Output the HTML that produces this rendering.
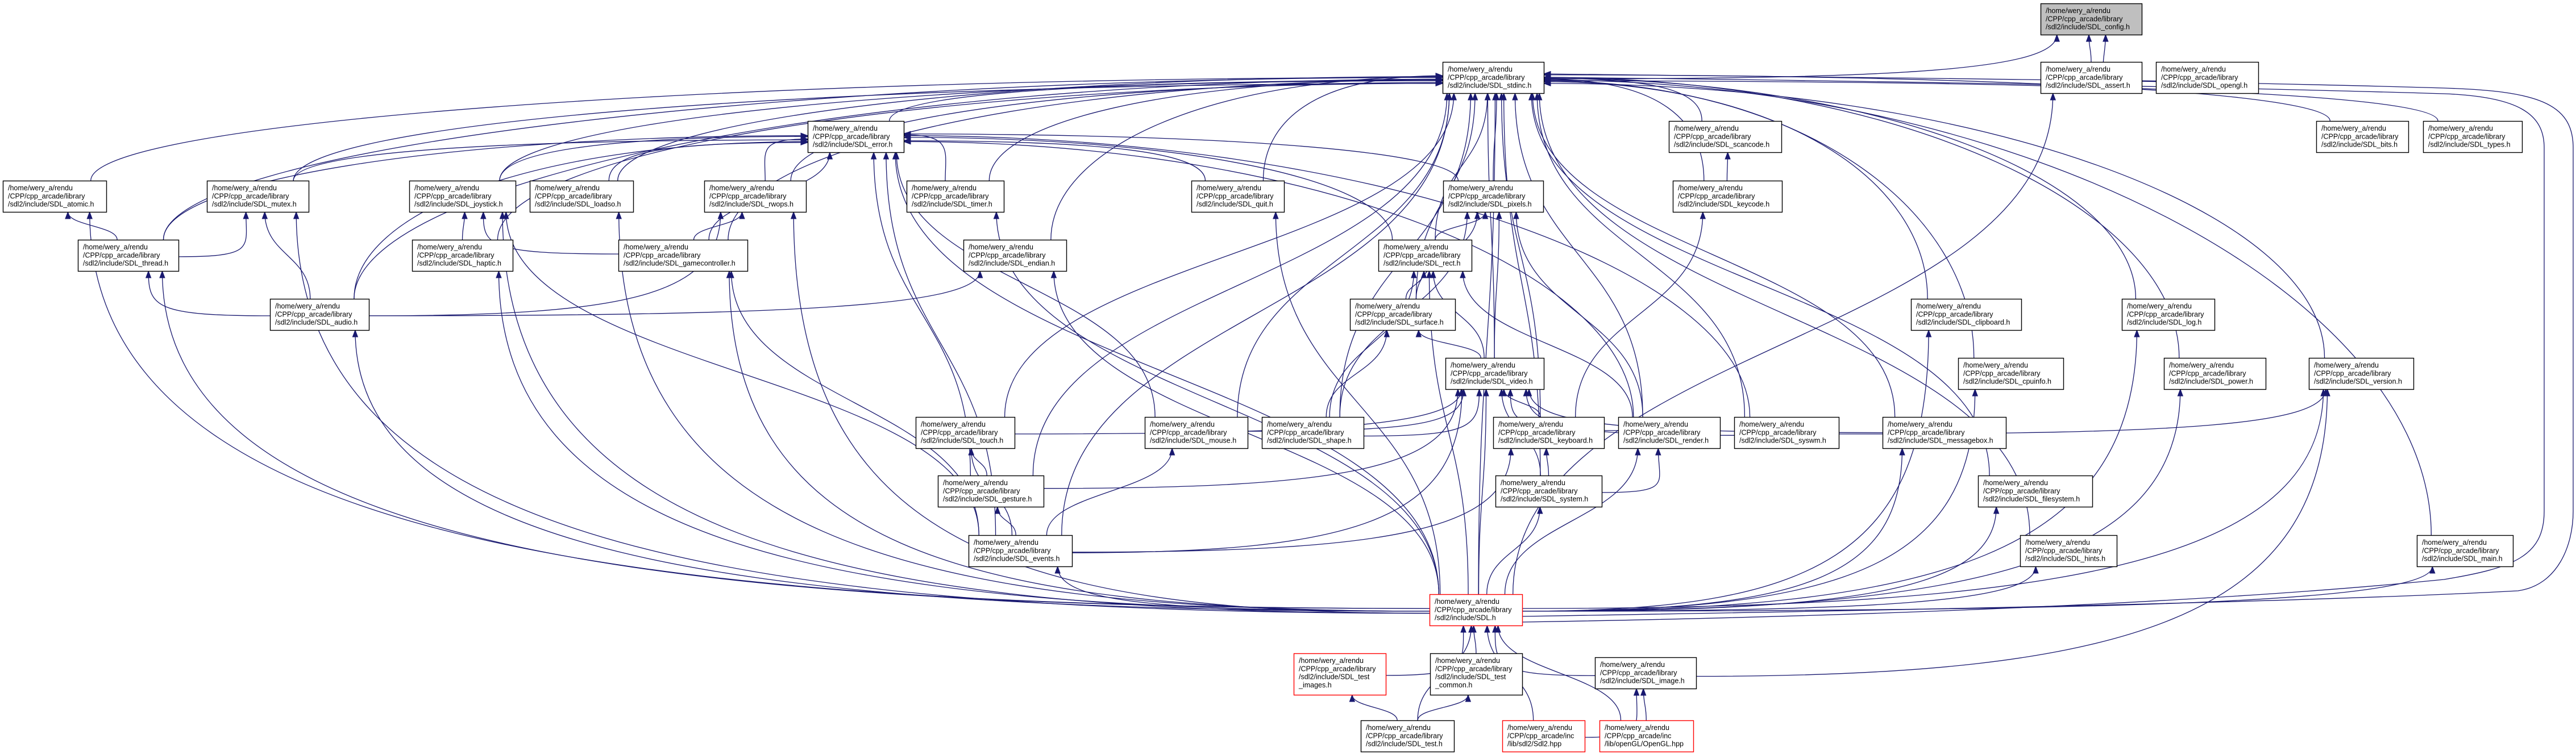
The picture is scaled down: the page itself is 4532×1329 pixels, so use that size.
<!DOCTYPE html>
<html><head><meta charset="utf-8">
<style>
html,body{margin:0;padding:0;background:#fff;}
svg{display:block;}
text{font-family:"Liberation Sans",sans-serif;font-size:12.5px;fill:#000;}
</style></head>
<body>
<svg id="g" xmlns="http://www.w3.org/2000/svg" width="4532" height="1329" viewBox="0 0 4532 1329">
<rect width="4532" height="1329" fill="#fff"/>
<g id="edges" fill="none" stroke="#191970" stroke-width="1.3"></g>
<g id="arrows" fill="#191970" stroke="#191970" stroke-width="1"></g>
<g id="nodes"></g>
</svg>
<script>
var N={
config:[3590,6,178,55,"SDL_config.h","gray"],
stdinc:[2538,109,178,55,"SDL_stdinc.h"],
assert:[3590,109,178,55,"SDL_assert.h"],
opengl:[3793,109,180,55,"SDL_opengl.h"],
error:[1421,213,169,55,"SDL_error.h"],
scancode:[2936,213,198,55,"SDL_scancode.h"],
bits:[4075,213,162,55,"SDL_bits.h"],
types:[4263,213,174,55,"SDL_types.h"],
atomic:[5,318,182,55,"SDL_atomic.h"],
mutex:[364,318,179,55,"SDL_mutex.h"],
joystick:[720,318,187,55,"SDL_joystick.h"],
loadso:[932,318,182,55,"SDL_loadso.h"],
rwops:[1239,318,179,55,"SDL_rwops.h"],
timer:[1595,318,171,55,"SDL_timer.h"],
quit:[2096,318,163,55,"SDL_quit.h"],
pixels:[2539,318,176,55,"SDL_pixels.h"],
keycode:[2943,318,192,55,"SDL_keycode.h"],
thread:[137,422,177,55,"SDL_thread.h"],
haptic:[725,422,177,55,"SDL_haptic.h"],
gamecontroller:[1088,422,227,55,"SDL_gamecontroller.h"],
endian:[1695,422,181,55,"SDL_endian.h"],
rect:[2425,422,164,55,"SDL_rect.h"],
audio:[475,526,174,55,"SDL_audio.h"],
surface:[2375,526,185,55,"SDL_surface.h"],
clipboard:[3362,526,194,55,"SDL_clipboard.h"],
log:[3733,526,163,55,"SDL_log.h"],
video:[2543,630,173,55,"SDL_video.h"],
cpuinfo:[3445,630,185,55,"SDL_cpuinfo.h"],
power:[3807,630,179,55,"SDL_power.h"],
version:[4062,630,184,55,"SDL_version.h"],
touch:[1611,734,174,55,"SDL_touch.h"],
mouse:[2014,734,181,55,"SDL_mouse.h"],
shape:[2220,734,179,55,"SDL_shape.h"],
keyboard:[2627,734,195,55,"SDL_keyboard.h"],
render:[2847,734,179,55,"SDL_render.h"],
syswm:[3051,734,184,55,"SDL_syswm.h"],
messagebox:[3312,734,217,55,"SDL_messagebox.h"],
gesture:[1650,837,186,55,"SDL_gesture.h"],
system:[2631,837,187,55,"SDL_system.h"],
filesystem:[3480,837,201,55,"SDL_filesystem.h"],
events:[1704,942,182,55,"SDL_events.h"],
hints:[3554,942,170,55,"SDL_hints.h"],
main:[4252,942,169,55,"SDL_main.h"],
SDL:[2515,1046,163,55,"SDL.h","red"],
timages:[2276,1150,162,73,"","red",["/home/wery_a/rendu","/CPP/cpp_arcade/library","/sdl2/include/SDL_test","_images.h"]],
tcommon:[2516,1150,162,73,"","",["/home/wery_a/rendu","/CPP/cpp_arcade/library","/sdl2/include/SDL_test","_common.h"]],
image:[2806,1157,178,55,"SDL_image.h"],
test:[2394,1268,164,55,"SDL_test.h"],
sdl2hpp:[2643,1268,145,55,"","red",["/home/wery_a/rendu","/CPP/cpp_arcade/inc","/lib/sdl2/Sdl2.hpp"]],
oglhpp:[2814,1268,165,55,"","red",["/home/wery_a/rendu","/CPP/cpp_arcade/inc","/lib/openGL/OpenGL.hpp"]]
};
var E=[
["stdinc","config"],["assert","config"],["opengl","config"],
];
"error atomic mutex joystick loadso rwops timer quit pixels scancode bits types thread haptic gamecontroller endian rect audio surface clipboard log video cpuinfo power version touch mouse shape keyboard render syswm messagebox gesture system filesystem hints main events SDL keycode".split(" ").forEach(function(k){E.push([k,"stdinc"]);});
"mutex joystick loadso rwops thread audio gamecontroller timer quit rect pixels mouse gesture events SDL syswm render".split(" ").forEach(function(k){E.push([k,"error"]);});
var more=[["thread","atomic"],["SDL","atomic"],["thread","mutex"],["audio","mutex"],["SDL","mutex"],
["haptic","joystick"],["gamecontroller","joystick"],["SDL","joystick"],["events","joystick"],
["SDL","loadso"],["audio","rwops"],["gamecontroller","rwops"],["SDL","rwops"],["SDL","timer"],["SDL","quit"],
["rect","pixels"],["surface","pixels"],["video","pixels"],["shape","pixels"],["render","pixels"],
["keyboard","keycode"],["keycode","scancode"],["audio","thread"],["SDL","thread"],["SDL","haptic"],
["SDL","gamecontroller"],["events","gamecontroller"],["audio","endian"],["SDL","endian"],
["surface","rect"],["video","rect"],["shape","rect"],["render","rect"],["SDL","rect"],["SDL","audio"],
["video","surface"],["shape","surface"],["SDL","clipboard"],["SDL","log"],["SDL","cpuinfo"],["SDL","power"],
["syswm","version"],["SDL","version"],["image","version"],
["touch","video"],["mouse","video"],["shape","video"],["keyboard","video"],["render","video"],["syswm","video"],
["messagebox","video"],["gesture","video"],["events","video"],["system","video"],["SDL","video"],
["gesture","touch"],["events","touch"],["events","mouse"],["events","keyboard"],["system","keyboard"],
["system","render"],["SDL","render"],["SDL","messagebox"],["events","gesture"],["SDL","system"],
["SDL","filesystem"],["SDL","hints"],["SDL","main"],["SDL","events"],["SDL","assert"],
["timages","SDL"],["tcommon","SDL"],["test","SDL"],["sdl2hpp","SDL"],["oglhpp","SDL"],["image","SDL"],
["test","timages"],["test","tcommon"],["sdl2hpp","image"],["oglhpp","image"]];
E=E.concat(more);
var NS="http://www.w3.org/2000/svg";
function el(t,a,p){var e=document.createElementNS(NS,t);for(var k in a)e.setAttribute(k,a[k]);p.appendChild(e);return e;}
var eg=document.getElementById("edges"),ag=document.getElementById("arrows"),ng=document.getElementById("nodes");
var cnt={};
function clamp(v,a,b){return Math.max(a,Math.min(b,v));}
function arrow(cx,cy,ex,ey){var dx=ex-cx,dy=ey-cy,l=Math.sqrt(dx*dx+dy*dy)||1;dx/=l;dy/=l;
var bx=ex-dx*12,by=ey-dy*12,px=-dy*4.5,py=dx*4.5;
el("polygon",{points:ex+","+ey+" "+(bx+px)+","+(by+py)+" "+(bx-px)+","+(by-py)},ag);}
E.forEach(function(e){
var I=N[e[0]],P=N[e[1]];
var icx=I[0]+I[2]/2,icy=I[1]+I[3]/2,pcx=P[0]+P[2]/2,pcy=P[1]+P[3]/2;
var dx=pcx-icx,dy=icy-pcy;
var key=e[1];cnt[key]=(cnt[key]||0)+1;var j=((cnt[key]*7)%11-5);
var sx,sy,ex,ey,c1x,c1y,c2x,c2y;
var hub=(e[1]=="stdinc"||e[1]=="error");
if(Math.abs(dx)>1.6*dy){
 var s=dx>0?1:-1;
 if(hub||dy<60){
  sx=icx+clamp(dx*0.1,-I[2]*0.35,I[2]*0.35);sy=I[1];
  ex=s>0?P[0]:P[0]+P[2];ey=P[1]+P[3]*0.55+j*1.5;
  c1x=sx;c1y=sy-dy*0.5;c2x=ex-s*Math.abs(dx)*0.5;c2y=ey;
 }else{
  sx=s>0?I[0]+I[2]:I[0];sy=I[1]+I[3]*0.5+j*1.2;
  ex=pcx+clamp(-dx*0.1,-P[2]*0.35,P[2]*0.35)+j;ey=P[1]+P[3];
  c1x=sx+dx*0.6;c1y=sy;c2x=ex;c2y=ey+(sy-ey)*0.8;
 }
}else{
 sx=icx+clamp(dx*0.15,-I[2]*0.4,I[2]*0.4);sy=I[1];
 ex=pcx+clamp(-dx*0.15,-P[2]*0.4,P[2]*0.4)+j*2;ey=P[1]+P[3];
 c1x=sx;c1y=sy-(sy-ey)*0.5;c2x=ex;c2y=ey+(sy-ey)*0.5;
}
el("path",{d:"M"+sx+","+sy+" C"+c1x+","+c1y+" "+c2x+","+c2y+" "+ex+","+ey},eg);
arrow(c2x,c2y,ex,ey);
});
// wide right-side loops
el("path",{d:"M2678,1085 C3300,1075 4060,1060 4430,1040 C4500,1030 4527,960 4527,900 L4527,260 C4527,180 4460,160 4300,155 C3800,140 3100,135 2716,130"},eg);
arrow(2800,131,2716,130);
el("path",{d:"M2678,1095 C3300,1085 3900,1060 4300,1020 C4420,1000 4476,980 4476,900 L4476,260 C4476,200 4430,170 4300,165 C3800,150 3100,140 2716,136"},eg);
arrow(2800,137,2716,136);
for(var k in N){var n=N[k];
 var stroke=n[5]=="red"?"#ff0000":"#000";var fill=n[5]=="gray"?"#bfbfbf":"#fff";
 el("rect",{x:n[0]+0.5,y:n[1]+0.5,width:n[2],height:n[3],fill:fill,stroke:stroke,"stroke-width":1.4},ng);
 var lines=n[6]||["/home/wery_a/rendu","/CPP/cpp_arcade/library","/sdl2/include/"+n[4]];
 for(var i=0;i<lines.length;i++){var t=el("text",{x:n[0]+9,y:n[1]+17+i*14.3},ng);t.textContent=lines[i];}
}
</script>
</body></html>
